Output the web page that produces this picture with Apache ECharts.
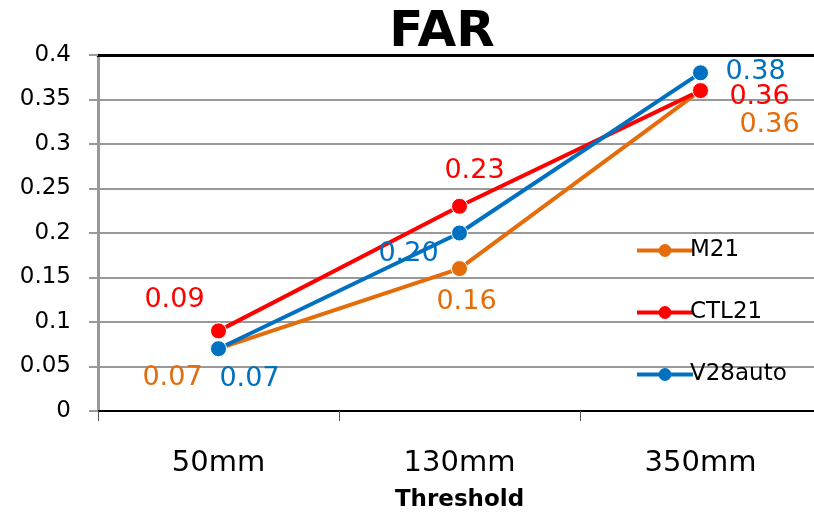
<!DOCTYPE html>
<html><head><meta charset="utf-8">
<script src="https://cdn.jsdelivr.net/npm/echarts@6/dist/echarts.min.js"></script>
<style>html,body{margin:0;padding:0;background:#fff}#c{width:814px;height:512px}</style>
</head><body><div id="c"></div>
<script>
const categories = ['50mm', '130mm', '350mm'];
const seriesNames = ['M21', 'CTL21', 'V28auto'];
const m21 = [0.07, 0.16, 0.36];
const ctl21 = [0.09, 0.23, 0.36];
const v28auto = [0.07, 0.20, 0.38];
const yTicks = [0, 0.05, 0.1, 0.15, 0.2, 0.25, 0.3, 0.35, 0.4];
const colors = ['#E46C0A', '#FF0000', '#0070C0'];
const labelOffsets = [
  [[-46, 29], [7, 33], [69, 34]],
  [[-44, -31], [15, -35], [59, 6]],
  [[31, 30], [-51, 21], [55, -1]]
];
const FONT = 'DejaVu Sans';
const values = [m21, ctl21, v28auto];

const chart = echarts.init(document.getElementById('c'), null, {renderer: 'canvas'});
const series = values.map((arr, si) => ({
  name: seriesNames[si],
  type: 'line',
  data: arr.map((v, i) => ({
    value: v,
    label: {show: true, position: 'inside', offset: labelOffsets[si][i]}
  })),
  symbol: 'circle',
  symbolSize: 16,
  lineStyle: {width: 4, color: colors[si]},
  itemStyle: {color: colors[si], borderColor: '#fff', borderWidth: 1},
  label: {
    color: colors[si], fontSize: 27, fontFamily: FONT,
    formatter: p => p.value.toFixed(2)
  },
  z: 3 + si
}));

chart.setOption({
  animation: false,
  backgroundColor: '#fff',
  title: {
    text: 'FAR', left: 437, top: 3, textAlign: 'center',
    textStyle: {fontSize: 50, fontWeight: 'bold', fontFamily: FONT, color: '#000'}
  },
  legend: {
    orient: 'vertical', left: 630, top: 234, itemGap: 39,
    itemWidth: 56, itemHeight: 16,
    data: seriesNames,
    itemStyle: {borderWidth: 0},
    lineStyle: {width: 4},
    textStyle: {fontSize: 23, fontFamily: FONT, color: '#000', padding: [0, 0, 0, -8]}
  },
  grid: {left: 98, right: -7, top: 55, bottom: 101, containLabel: false, outerBoundsMode: 'none'},
  xAxis: [{
    type: 'category', data: categories, position: 'bottom',
    axisLine: {lineStyle: {color: '#000', width: 2}},
    axisTick: {show: true, length: 10, lineStyle: {color: '#555', width: 1}},
    axisLabel: {fontSize: 29, fontFamily: FONT, color: '#000', margin: 38},
    name: 'Threshold', nameLocation: 'middle', nameGap: 78,
    nameTextStyle: {fontSize: 23, fontWeight: 'bold', fontFamily: FONT, color: '#000'}
  }, {
    type: 'category', data: categories, position: 'top',
    axisLine: {lineStyle: {color: '#000', width: 3}},
    axisTick: {show: false}, axisLabel: {show: false}
  }],
  yAxis: {
    type: 'value', min: 0, max: 0.4, interval: 0.05,
    axisLine: {show: true, lineStyle: {color: '#999', width: 3}},
    axisTick: {show: true, length: 9, lineStyle: {color: '#999', width: 2}},
    splitLine: {lineStyle: {color: '#999', width: 2}},
    axisLabel: {fontSize: 23, fontFamily: FONT, color: '#000', margin: 27,
      formatter: v => String(parseFloat(v.toFixed(2)))}
  },
  series: series
});
</script></body></html>
